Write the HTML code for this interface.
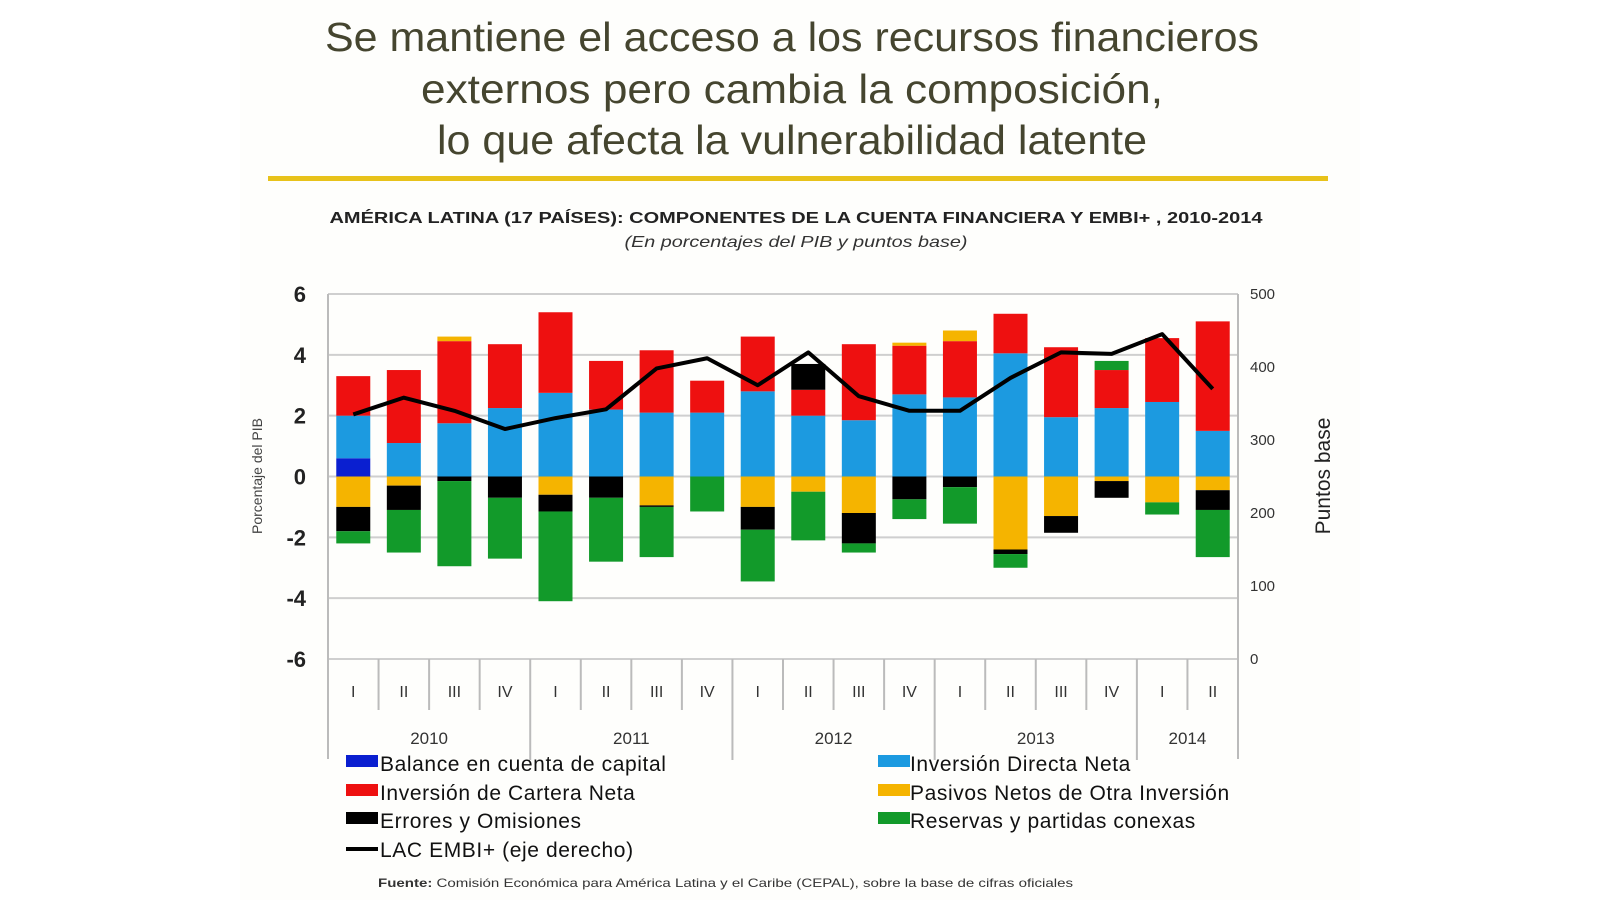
<!DOCTYPE html>
<html><head><meta charset="utf-8"><style>
body{margin:0;background:#fff;width:1600px;height:900px;overflow:hidden;font-family:"Liberation Sans",Arial,sans-serif}
svg{position:absolute;left:0;top:0}
</style></head><body>
<svg id="c" width="1600" height="900">
<rect x="240" y="0" width="1120" height="900" fill="#fefefc"/>
<g font-size="41" fill="#45452f" text-anchor="middle">
<text x="792" y="51" textLength="934" lengthAdjust="spacingAndGlyphs">Se mantiene el acceso a los recursos financieros</text>
<text x="792" y="103" textLength="742" lengthAdjust="spacingAndGlyphs">externos  pero cambia la composición,</text>
<text x="792" y="154" textLength="710" lengthAdjust="spacingAndGlyphs">lo que afecta la vulnerabilidad latente</text>
</g>
<rect x="268" y="176" width="1060" height="5" fill="#e8c21a"/>
<text x="796" y="223" text-anchor="middle" font-size="16" font-weight="bold" fill="#222" textLength="933" lengthAdjust="spacingAndGlyphs">AMÉRICA LATINA (17 PAÍSES): COMPONENTES DE LA CUENTA FINANCIERA Y  EMBI+ , 2010-2014</text>
<text x="796" y="247" text-anchor="middle" font-size="16" font-style="italic" fill="#333" textLength="343" lengthAdjust="spacingAndGlyphs">(En porcentajes del PIB y puntos base)</text>
<g id="plot"></g>
<text transform="translate(262,476) rotate(-90)" text-anchor="middle" font-size="14" fill="#444">Porcentaje del PIB</text>
<text transform="translate(1330,476) rotate(-90)" text-anchor="middle" font-size="21" fill="#222">Puntos base</text>
<g font-size="21" fill="#111" letter-spacing="0.6">
<g><rect x="346" y="755" width="32" height="12" fill="#0a1fd0"/><text x="380" y="771">Balance en cuenta de capital</text></g>
<g><rect x="346" y="784" width="32" height="12" fill="#ee1010"/><text x="380" y="800">Inversión de Cartera Neta</text></g>
<g><rect x="346" y="812" width="32" height="12" fill="#000"/><text x="380" y="828">Errores y Omisiones</text></g>
<g><rect x="346" y="847" width="32" height="4" fill="#000"/><text x="380" y="857">LAC EMBI+ (eje derecho)</text></g>
<g><rect x="878" y="755" width="32" height="12" fill="#1c9ae0"/><text x="910" y="771">Inversión Directa Neta</text></g>
<g><rect x="878" y="784" width="32" height="12" fill="#f5b400"/><text x="910" y="800">Pasivos Netos de Otra Inversión</text></g>
<g><rect x="878" y="812" width="32" height="12" fill="#129a2a"/><text x="910" y="828">Reservas y partidas conexas</text></g>
</g>
<text x="378" y="887" font-size="12" fill="#333" textLength="695" lengthAdjust="spacingAndGlyphs"><tspan font-weight="bold">Fuente:</tspan> Comisión Económica para América Latina y el Caribe (CEPAL), sobre la base de cifras oficiales</text>
</svg>
<script>
const quarters=["I","II","III","IV","I","II","III","IV","I","II","III","IV","I","II","III","IV","I","II"];
const years=["2010","2011","2012","2013","2014"];
const leftTicks=[-6,-4,-2,0,2,4,6];
const rightTicks=[0,100,200,300,400,500];
const capital=[0.6,0,0,0,0,0,0,0,0,0,0,0,0,0,0,0,0,0];
const idn=[1.4,1.1,1.75,2.25,2.75,2.2,2.1,2.1,2.8,2.0,1.85,2.7,2.6,4.05,1.95,2.25,2.45,1.5];
const cartera=[1.3,2.4,2.7,2.1,2.65,1.6,2.05,1.05,1.8,0.85,2.5,1.6,1.85,1.3,2.3,1.25,2.1,3.6];
const pasivosPos=[0,0,0.15,0,0,0,0,0,0,0,0,0.1,0.35,0,0,0,0,0];
const erroresPos=[0,0,0,0,0,0,0,0,0,0.85,0,0,0,0,0,0,0,0];
const reservasPos=[0,0,0,0,0,0,0,0,0,0,0,0,0,0,0,0.3,0,0];
const pasivosNeg=[-1.0,-0.3,0,0,-0.6,0,-0.95,0,-1.0,-0.5,-1.2,0,0,-2.4,-1.3,-0.15,-0.85,-0.45];
const erroresNeg=[-0.8,-0.8,-0.15,-0.7,-0.55,-0.7,-0.05,0,-0.75,0,-1.0,-0.75,-0.35,-0.15,-0.55,-0.55,0,-0.65];
const reservasNeg=[-0.4,-1.4,-2.8,-2.0,-2.95,-2.1,-1.65,-1.15,-1.7,-1.6,-0.3,-0.65,-1.2,-0.45,0,0,-0.4,-1.55];
const embi=[335,358,340,315,330,342,398,412,375,420,360,340,340,385,420,418,445,370];

const NS="http://www.w3.org/2000/svg";
const X0=328,X1=1238,YT=294,YB=659;
const slot=(X1-X0)/quarters.length,bw=34;
const y=v=>YT+(6-v)/12*(YB-YT);
const yr=v=>YB-v/500*(YB-YT);
const xc=i=>X0+slot*(i+0.5);
const plot=document.getElementById('plot');
function mk(t,a){const e=document.createElementNS(NS,t);for(const k in a)e.setAttribute(k,a[k]);plot.appendChild(e);return e;}
leftTicks.forEach(v=>{
 const g=mk('line',{x1:X0,x2:X1,y1:y(v),y2:y(v),stroke:'#cfcfcf','stroke-width':2});
 
 
 const t=mk('text',{x:X0-22,y:y(v)+8,'text-anchor':'end','font-size':22,'font-weight':'bold',fill:'#222'});
 t.textContent=v;
 
 
});
rightTicks.forEach(v=>{
 const t=mk('text',{x:X1+12,y:yr(v)+5,'font-size':15,fill:'#333'});
 t.textContent=v;
 
 
});
const ax=mk('line',{x1:X0,x2:X0,y1:YT,y2:YB+100,stroke:'#bbb','stroke-width':2});


const ax2=mk('line',{x1:X1,x2:X1,y1:YT,y2:YB+100,stroke:'#bbb','stroke-width':2});


const posSeries=[[capital,'#0a1fd0'],[idn,'#1c9ae0'],[cartera,'#ee1010'],[pasivosPos,'#f5b400'],[erroresPos,'#000'],[reservasPos,'#129a2a']];
const negSeries=[[pasivosNeg,'#f5b400'],[erroresNeg,'#000'],[reservasNeg,'#129a2a']];
quarters.forEach((q,i)=>{
 let c=0;
 posSeries.forEach(([arr,col])=>{const v=arr[i];if(v>0){const r=mk('rect',{x:xc(i)-bw/2,y:y(c+v),width:bw,height:y(c)-y(c+v),fill:col});
 
 c+=v;}});
 c=0;
 negSeries.forEach(([arr,col])=>{const v=arr[i];if(v<0){const r=mk('rect',{x:xc(i)-bw/2,y:y(c),width:bw,height:y(c+v)-y(c),fill:col});
 
 c+=v;}});
 const t=mk('text',{x:xc(i),y:697,'text-anchor':'middle','font-size':16,fill:'#333'});
 t.textContent=q;
 
 
 if(i>0){const l=mk('line',{x1:X0+slot*i,x2:X0+slot*i,y1:YB,y2:(q==="I")?760:710,stroke:'#bbb','stroke-width':2});
 
 }
});
years.forEach((yv,k)=>{
 const n=Math.min(4,quarters.length-k*4);
 const t=mk('text',{x:X0+slot*(k*4+n/2),y:744,'text-anchor':'middle','font-size':17,fill:'#333'});
 t.textContent=yv;
 
 
});
const p=mk('polyline',{points:embi.map((v,i)=>xc(i)+','+yr(v)).join(' '),fill:'none',stroke:'#000','stroke-width':4,'stroke-linejoin':'round'});


</script>
</body></html>
